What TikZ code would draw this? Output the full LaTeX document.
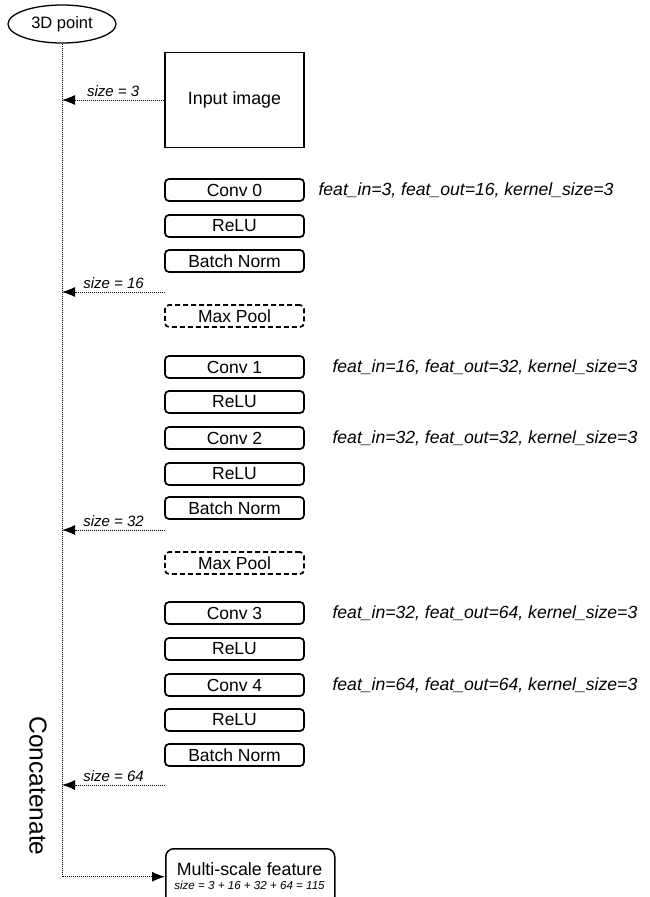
\documentclass[tikz,border=0pt]{standalone}
\usepackage{fontspec}
\setmainfont{Liberation Sans}
\usetikzlibrary{shapes,arrows.meta,positioning}

\begin{document}
\begin{tikzpicture}[x=1pt, y=-1pt, >={Latex[length=13pt,width=10pt]},
    layer/.style={draw, line width=1.7pt, rounded corners=4pt, minimum width=139pt,
        minimum height=22pt, inner sep=0pt, font=\fontsize{17.5}{19}\selectfont},
    pool/.style={layer, dash pattern=on 5pt off 3pt},
    feed/.style={->, line width=1pt, densely dotted},
    sizelbl/.style={above=0pt, font=\fontsize{15}{17}\selectfont\itshape},
    param/.style={anchor=west, font=\fontsize{17.6}{20}\selectfont\itshape}]
    \useasboundingbox (0,0) rectangle (650,897);

    % Input point and image
    \node[ellipse, draw, line width=1.3pt, minimum width=108pt, minimum height=38pt,
        inner sep=0pt, font=\fontsize{16.5}{18}\selectfont] (pt3d) at (62,24) {3D point};
    \node[draw, line width=1.5pt, minimum width=139pt, minimum height=95pt,
        font=\fontsize{17.8}{19}\selectfont] (inimg) at (234.5,100) {Input image};

    % Block 1
    \node[layer] (conv0) at (234.5,190) {Conv 0};
    \node[layer] (relu0) at (234.5,226) {ReLU};
    \node[layer] (bn0) at (234.5,261) {Batch Norm};
    \coordinate (out16) at (165,292);
    \node[pool] (pool0) at (234.5,316) {Max Pool};

    % Block 2
    \node[layer] (conv1) at (234.5,367) {Conv 1};
    \node[layer] (relu1) at (234.5,402) {ReLU};
    \node[layer] (conv2) at (234.5,438) {Conv 2};
    \node[layer] (relu2) at (234.5,474) {ReLU};
    \node[layer] (bn1) at (234.5,508) {Batch Norm};
    \coordinate (out32) at (165,530);
    \node[pool] (pool1) at (234.5,563) {Max Pool};

    % Block 3
    \node[layer] (conv3) at (234.5,613) {Conv 3};
    \node[layer] (relu3) at (234.5,649) {ReLU};
    \node[layer] (conv4) at (234.5,685) {Conv 4};
    \node[layer] (relu4) at (234.5,720) {ReLU};
    \node[layer] (bn2) at (234.5,755) {Batch Norm};
    \coordinate (out64) at (165,785);

    % Conv parameters
    \node[param] (par0) at (315,190) {feat\_in=3, feat\_out=16, kernel\_size=3};
    \node[param] (par1) at (329,367) {feat\_in=16, feat\_out=32, kernel\_size=3};
    \node[param] (par2) at (329,438) {feat\_in=32, feat\_out=32, kernel\_size=3};
    \node[param] (par3) at (329,613) {feat\_in=32, feat\_out=64, kernel\_size=3};
    \node[param] (par4) at (329,685) {feat\_in=64, feat\_out=64, kernel\_size=3};

    % Output feature
    \node[draw, line width=1.5pt, rounded corners=8pt, minimum width=169pt, minimum height=56pt,
        inner sep=0pt, anchor=north west] (multi) at (165,848) {};
    \node[font=\fontsize{17.8}{18}\selectfont, anchor=base] (mstitle) at (249.5,875) {Multi-scale feature};
    \node[font=\fontsize{11.6}{12}\selectfont\itshape, anchor=base] (mssize) at (249.5,889)
        {size = 3 + 16 + 32 + 64 = 115};

    % Concatenation line
    \draw[feed] (pt3d.south) |- (multi.west);
    \draw[feed] (inimg.west) -- (inimg.west -| pt3d.south) node[midway, sizelbl] {size = 3};
    \draw[feed] (out16) -- (out16 -| pt3d.south) node[midway, sizelbl] {size = 16};
    \draw[feed] (out32) -- (out32 -| pt3d.south) node[midway, sizelbl] {size = 32};
    \draw[feed] (out64) -- (out64 -| pt3d.south) node[midway, sizelbl] {size = 64};
    \node[rotate=-90, font=\fontsize{24.5}{26}\selectfont] (concat) at (38,786) {Concatenate};
\end{tikzpicture}
\end{document}
